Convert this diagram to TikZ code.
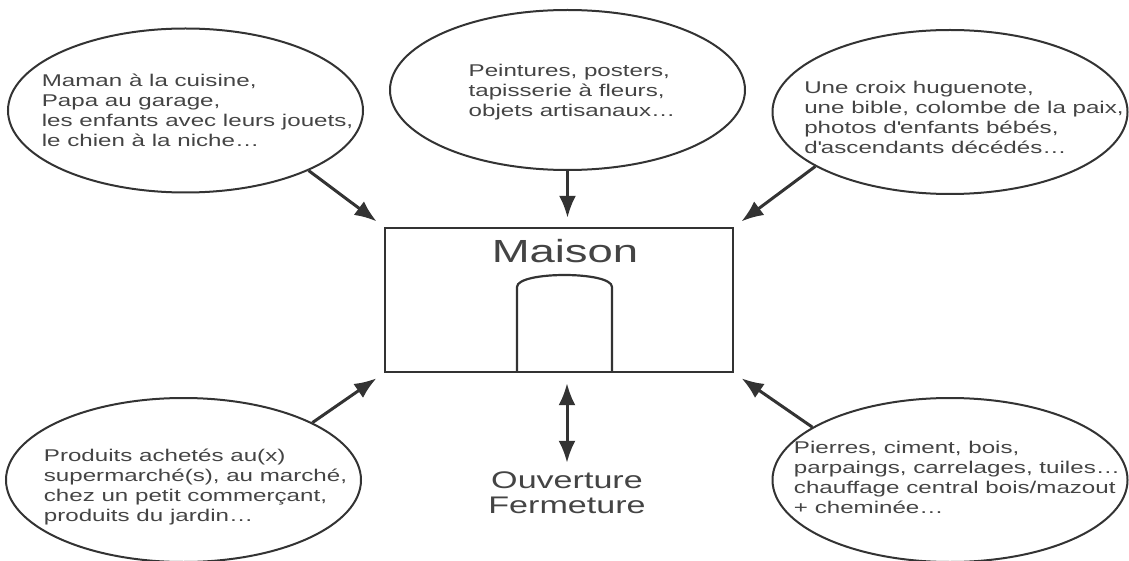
\documentclass[tikz,border=0pt]{standalone}
\usepackage{fontspec}
\setmainfont[FakeStretch=1.42]{Liberation Sans}
\usetikzlibrary{shapes.geometric, arrows.meta, positioning}
\definecolor{trait}{HTML}{333333}
\definecolor{ecrit}{HTML}{444444}

\begin{document}
\begin{tikzpicture}[x=1pt, y=-1pt,
    bulle/.style={ellipse,
        draw=trait,
        line width=2pt,
        minimum width=355pt,
        minimum height=164pt,
        inner sep=0pt},
    texte/.style={align=left,
        text=ecrit,
        inner sep=0pt,
        font=\fontsize{17}{20}\selectfont},
    pointe/.tip={Latex[length=22pt, width=17pt]},
    fleche/.style={-pointe,
        draw=trait,
        line width=3pt,
        shorten >=9pt}]
    \useasboundingbox (0,0) rectangle (1129,561);

    % Add the house
        \node[draw=trait,
              line width=2.4pt,
              minimum width=348pt,
              minimum height=144pt,
              inner sep=0pt] (maison) at (559,300) {};
        \node[text=ecrit,
              inner sep=0pt,
              font=\fontsize{32}{36}\selectfont] (titre) at (565,251.5) {Maison};
        \draw[trait, line width=2.2pt]
            (517,372) -- (517,287) .. controls (517,271) and (612,271) .. (612,287) -- (612,372);
        \node[text=ecrit,
              inner sep=0pt,
              align=center,
              font=\fontsize{24}{25}\selectfont] (ouverture) at (567,493) {Ouverture\\Fermeture};

    % Add the bubbles
        \node[bulle] (famille) at (185.5,110.5) {};
        \node[texte] (famille-txt) at (197.5,110) {Maman à la cuisine,\\Papa au garage,\\les enfants avec leurs jouets,\\le chien à la niche…};
        \node[bulle,
              minimum height=160pt] (decor) at (567.5,90) {};
        \node[texte] (decor-txt) at (572,92) {Peintures, posters,\\tapisserie à fleurs,\\objets artisanaux…};
        \node[bulle] (foi) at (950,112) {};
        \node[texte] (foi-txt) at (964,117) {Une croix huguenote,\\une bible, colombe de la paix,\\photos d\textquotesingle enfants bébés,\\d\textquotesingle ascendants décédés…};
        \node[bulle] (achats) at (183.5,480) {};
        \node[texte] (achats-txt) at (195.5,487) {Produits achetés au(x)\\supermarché(s), au marché,\\chez un petit commerçant,\\produits du jardin…};
        \node[bulle] (materiaux) at (950,480) {};
        \node[texte] (materiaux-txt) at (957,477) {Pierres, ciment, bois,\\parpaings, carrelages, tuiles…\\chauffage central bois/mazout\\+ cheminée…};

    % Add the arrows
        \draw[fleche] (famille.-26) -- (maison.north west);
        \draw[fleche] (decor.south) -- (decor.south |- maison.north);
        \draw[fleche] (foi.-158) -- (maison.north east);
        \draw[fleche] (achats.24) -- (maison.south west);
        \draw[fleche] (materiaux.159) -- (maison.south east);
        \draw[fleche,
              shorten <=10pt,
              pointe-pointe]
            (ouverture.north |- maison.south) -- (ouverture.north);
\end{tikzpicture}
\end{document}
